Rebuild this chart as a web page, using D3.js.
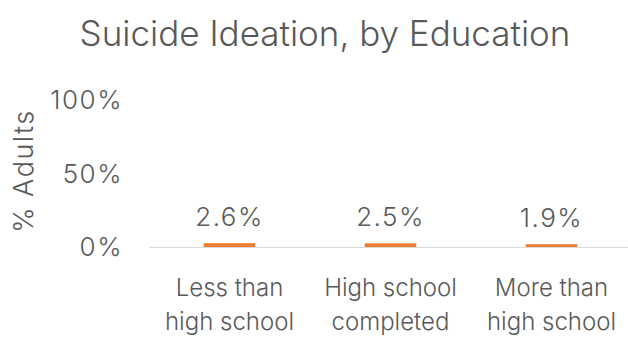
<!DOCTYPE html>
<html>
<head>
<meta charset="utf-8">
<script src="https://cdn.jsdelivr.net/npm/d3@7"></script>
<style>
  html, body { margin: 0; padding: 0; background: #fff; }
  svg { display: block; }
  text { font-family: "Inter", "Liberation Sans", sans-serif; font-weight: 300; fill: #595959; }
  .num { letter-spacing: 1.5px; }
</style>
</head>
<body>
<svg id="chart" width="628" height="337"></svg>
<script>
const categories = [["Less than", "high school"], ["High school", "completed"], ["More than", "high school"]];
const values = [2.6, 2.5, 1.9];
const yTicks = [0, 50, 100];
const titleText = "Suicide Ideation, by Education";
const yTitle = "% Adults";

const svg = d3.select("#chart");
const margin = { left: 149, right: -4, top: 100, bottom: 90 };
const W = 628, H = 337;
const plotH = H - margin.top - margin.bottom;

const x = d3.scaleBand()
  .domain(d3.range(values.length))
  .range([margin.left, W - margin.right])
  .paddingInner(0.68).paddingOuter(0.34);

const y = d3.scaleLinear().domain([0, 100]).range([margin.top + plotH, margin.top]);

svg.append("text")
  .attr("x", 325).attr("y", 46)
  .attr("text-anchor", "middle")
  .style("font-size", "35px")
  .text(titleText);

// y tick labels
svg.selectAll(".ytick").data(yTicks).join("text")
  .attr("class", "ytick num")
  .attr("x", 123)
  .attr("y", d => y(d) + 9)
  .attr("text-anchor", "end")
  .style("font-size", "26px")
  .text(d => d + "%");

svg.append("text")
  .attr("class", "num")
  .attr("transform", `translate(33, 171) rotate(-90)`)
  .attr("text-anchor", "middle")
  .style("font-size", "27px")
  .text(yTitle);

// baseline
svg.append("line")
  .attr("x1", margin.left).attr("x2", W)
  .attr("y1", y(0) + 0.5).attr("y2", y(0) + 0.5)
  .attr("stroke", "#d9d9d9").attr("stroke-width", 1);

// bars
svg.selectAll(".bar").data(values).join("rect")
  .attr("class", "bar")
  .attr("x", (d, i) => x(i))
  .attr("width", x.bandwidth())
  .attr("y", d => y(d))
  .attr("height", d => y(0) - y(d))
  .attr("fill", "#ED7D31");

// value labels
svg.selectAll(".val").data(values).join("text")
  .attr("class", "val num")
  .attr("x", (d, i) => x(i) + x.bandwidth() / 2)
  .attr("y", d => y(d) - 17)
  .attr("text-anchor", "middle")
  .style("font-size", "26px")
  .text(d => d.toFixed(1) + "%");

// category labels
const cat = svg.selectAll(".cat").data(categories).join("text")
  .attr("class", "cat")
  .attr("text-anchor", "middle")
  .style("font-size", "24px");
cat.selectAll("tspan").data((d, i) => d.map(s => ({ s, i }))).join("tspan")
  .attr("x", d => x(d.i) + x.bandwidth() / 2)
  .attr("y", (d, j) => 296 + j * 34)
  .text(d => d.s);
</script>
</body>
</html>
